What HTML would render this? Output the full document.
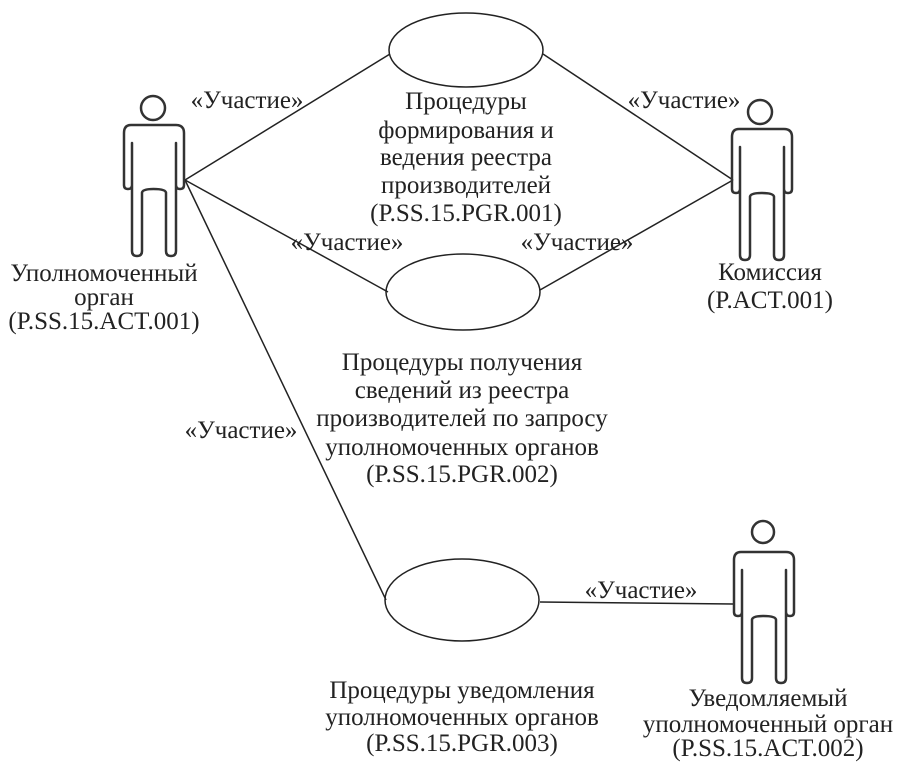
<!DOCTYPE html>
<html><head><meta charset="utf-8"><style>
html,body{margin:0;padding:0;background:#fff;}
svg text{font-family:"Liberation Serif",serif;font-size:25px;fill:#222;}
</style></head><body>
<svg width="911" height="771" viewBox="0 0 911 771" xmlns="http://www.w3.org/2000/svg">
<defs>
<g id="man" fill="none" stroke="#333" stroke-width="2.5" stroke-linejoin="round">
<path d="M8,0 H53 Q61,0 61,8 V60 Q61,64 57,64 Q53,64 53,60 V18 V126 Q53,131 48,131 Q43,131 43,126 V68 Q43,64 30.5,64 Q19,64 19,68 V126 Q19,131 14,131 Q9,131 9,126 V18 V60 Q9,64 5,64 Q1,64 1,60 V8 Q1,0 8,0 Z"/>
</g>
</defs>
<g stroke="#222" stroke-width="1.5" fill="none">
<line x1="185" y1="180" x2="390" y2="54"/>
<line x1="185" y1="180" x2="388" y2="292"/>
<line x1="185" y1="180" x2="386" y2="600"/>
<line x1="733" y1="180" x2="543" y2="54"/>
<line x1="733" y1="180" x2="540" y2="290"/>
<line x1="540" y1="602" x2="733" y2="604"/>
<ellipse cx="466" cy="50" rx="77" ry="37"/>
<ellipse cx="463" cy="292" rx="77" ry="38"/>
<ellipse cx="462" cy="600" rx="77" ry="41"/>
<circle cx="153" cy="108" r="12" stroke="#333" stroke-width="2.5"/>
<circle cx="760" cy="112" r="12" stroke="#333" stroke-width="2.5"/>
<circle cx="763" cy="532" r="11" stroke="#333" stroke-width="2.5"/>
</g>
<use href="#man" x="123" y="125"/>
<use href="#man" x="731" y="129"/>
<use href="#man" x="733" y="552"/>
<g text-anchor="middle">
<text x="247" y="108">«Участие»</text>
<text x="684" y="108">«Участие»</text>
<text x="347" y="250">«Участие»</text>
<text x="577" y="250">«Участие»</text>
<text x="241" y="438">«Участие»</text>
<text x="641" y="598">«Участие»</text>
<text x="466" y="109">Процедуры</text>
<text x="466" y="138">формирования и</text>
<text x="466" y="165">ведения реестра</text>
<text x="466" y="193">производителей</text>
<text x="466" y="221">(P.SS.15.PGR.001)</text>
<text x="104" y="281">Уполномоченный</text>
<text x="104" y="305">орган</text>
<text x="104" y="329">(P.SS.15.ACT.001)</text>
<text x="770" y="280">Комиссия</text>
<text x="770" y="308">(P.ACT.001)</text>
<text x="462" y="370">Процедуры получения</text>
<text x="462" y="398">сведений из реестра</text>
<text x="462" y="426">производителей по запросу</text>
<text x="462" y="455">уполномоченных органов</text>
<text x="462" y="482">(P.SS.15.PGR.002)</text>
<text x="462" y="698">Процедуры уведомления</text>
<text x="462" y="725">уполномоченных органов</text>
<text x="462" y="751">(P.SS.15.PGR.003)</text>
<text x="768" y="706">Уведомляемый</text>
<text x="768" y="732">уполномоченный орган</text>
<text x="768" y="756">(P.SS.15.ACT.002)</text>
</g>
</svg>
</body></html>
